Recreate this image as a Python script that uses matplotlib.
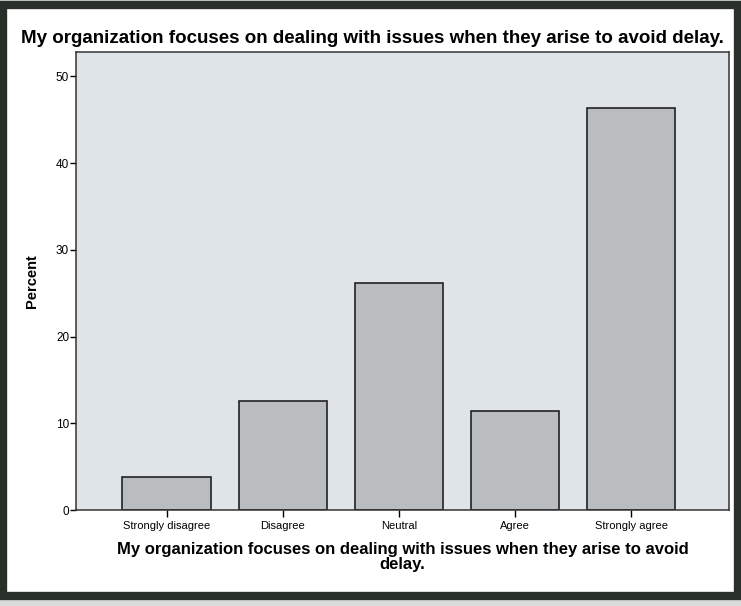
import matplotlib.pyplot as plt
from matplotlib.patches import Rectangle

categories = ["Strongly disagree", "Disagree", "Neutral", "Agree", "Strongly agree"]
percent = [3.8, 12.6, 26.2, 11.4, 46.4]
y_ticks = [0, 10, 20, 30, 40, 50]

question = "My organization focuses on dealing with issues when they arise to avoid delay."

plt.rcParams['font.family'] = ['Liberation Sans', 'DejaVu Sans']

fig = plt.figure(figsize=(7.41, 6.06), dpi=100)
fig.patch.set_facecolor("#d9dbda")

# white page with a heavy dark frame around it
fig.patches.append(Rectangle((0.004, 0.016), 0.992, 0.976, transform=fig.transFigure,
                             facecolor="white", edgecolor="#283029", linewidth=6, zorder=-1))

ax = fig.add_axes([0.1026, 0.1584, 0.881, 0.7558])
ax.set_zorder(1)
ax.set_facecolor("#dfe4e8")
x = range(len(categories))
ax.bar(x, percent, width=0.76, color="#b9bdbf", edgecolor="#222222", linewidth=1.2, zorder=2)

ax.set_xlim(-0.78, 4.84)
ax.set_ylim(0, 52.8)
ax.set_yticks(y_ticks)
ax.set_xticks(list(x))
ax.set_xticklabels(categories, fontsize=8)
ax.tick_params(axis="y", labelsize=8.5, length=4, width=1, pad=1)
ax.tick_params(axis="x", length=5, width=1, pad=3)
for s in ax.spines.values():
    s.set_linewidth(1.1)
    s.set_color("#333333")

ax.set_ylabel("Percent", fontsize=10.5, fontweight="bold", labelpad=12)
ax.set_xlabel("My organization focuses on dealing with issues when they arise to avoid\ndelay.",
              fontsize=12, fontweight="bold", linespacing=1.0, labelpad=8)
fig.text(0.503, 0.937, question, ha="center", va="center", fontsize=13.5, fontweight="bold")

fig.savefig("out.png", dpi=100, facecolor=fig.get_facecolor())
